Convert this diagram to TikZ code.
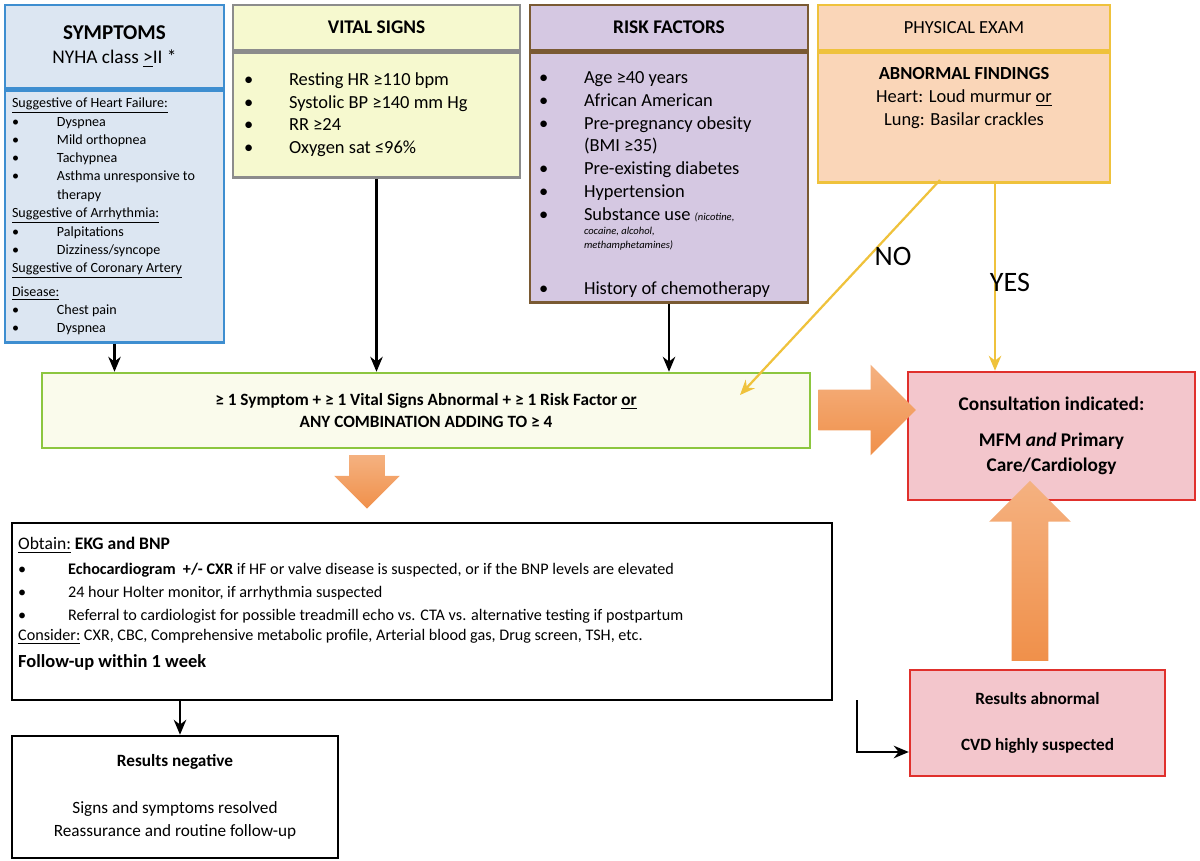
\documentclass[tikz,border=0pt]{standalone}
\usepackage{fontspec}
\setmainfont{Carlito}
\usepackage{array}
\usepackage{tikz}
\usetikzlibrary{arrows.meta,shapes.arrows,positioning}

\definecolor{symfill}{HTML}{DCE6F2}
\definecolor{symline}{HTML}{3E8ED0}
\definecolor{vitfill}{HTML}{F6F9CF}
\definecolor{vitline}{HTML}{8C8C8C}
\definecolor{riskfill}{HTML}{D5C8E2}
\definecolor{riskline}{HTML}{7A5A33}
\definecolor{examfill}{HTML}{FAD6B8}
\definecolor{examline}{HTML}{EFC23C}
\definecolor{combofill}{HTML}{FAFBEC}
\definecolor{comboline}{HTML}{8CC63F}
\definecolor{consfill}{HTML}{F3C6CC}
\definecolor{consline}{HTML}{E0302C}
\definecolor{goldarrow}{HTML}{EFC23C}
\definecolor{orangearrow}{HTML}{F0904A}

\tikzset{
  box/.style={draw, line width=0.5mm, inner sep=2pt},
  hdr/.style={font=\fontsize{11}{13}\selectfont\bfseries},
  small/.style={font=\fontsize{8}{10.4}\selectfont},
  mid/.style={font=\fontsize{10}{12.6}\selectfont},
  blk/.style={-{Stealth[length=3mm,width=2.5mm]}, line width=0.45mm},
  gold/.style={-{Stealth[length=3mm,width=2.5mm]}, goldarrow, line width=0.45mm},
  fat/.style={single arrow, draw=none, inner sep=0pt, outer sep=0pt,
    top color=orangearrow!70, bottom color=orangearrow}
}
\newcolumntype{R}[1]{>{\raggedright\arraybackslash\hyphenpenalty=10000}p{#1}}
\newcommand{\bul}[1]{\textbullet & #1\\}

\begin{document}
\begin{tikzpicture}[x=0.02cm, y=-0.02cm]
  \useasboundingbox (0,0) rectangle (1200,861);
  % Symptoms
  \node[box, symline, fill=symfill, minimum width=4.38cm, minimum height=1.66cm,
        text=black, align=center] (symT) at (114.5,46.5)
        {{\fontsize{12}{14}\selectfont\bfseries SYMPTOMS}\\[2pt]
         {\fontsize{11}{13}\selectfont NYHA class \underline{>}II *}};
  \node[box, symline, fill=symfill, minimum width=4.38cm, minimum height=5.04cm,
        text=black, small, anchor=north] (symB) at (symT.south) {%
    \begin{tabular}{@{}p{0.9cm}@{}R{3.2cm}@{}}
    \multicolumn{2}{@{}l}{\underline{Suggestive of Heart Failure:}}\\
    \bul{Dyspnea}\bul{Mild orthopnea}\bul{Tachypnea}
    \bul{Asthma unresponsive to therapy}
    \multicolumn{2}{@{}l}{\underline{Suggestive of Arrhythmia:}}\\
    \bul{Palpitations}\bul{Dizziness/syncope}
    \multicolumn{2}{@{}l}{\underline{Suggestive of Coronary Artery}}\\[3pt]
    \multicolumn{2}{@{}l}{\underline{Disease:}}\\
    \bul{Chest pain}\bul{Dyspnea}
    \end{tabular}};
  % Vital signs
  \node[box, vitline, fill=vitfill, minimum width=5.74cm, minimum height=0.9cm,
        text=black, hdr] (vitT) at (376.5,27.5) {VITAL SIGNS};
  \node[box, vitline, fill=vitfill, minimum width=5.74cm, minimum height=2.5cm,
        text=black, font=\fontsize{10.5}{13}\selectfont, anchor=north] (vitB) at (vitT.south) {%
    \begin{tabular}{@{}p{0.9cm}@{}R{4.4cm}@{}}
    \bul{Resting HR ≥110 bpm}\bul{Systolic BP ≥140 mm Hg}
    \bul{RR ≥24}\bul{Oxygen sat ≤96\%}
    \end{tabular}};
  % Risk factors
  \node[box, riskline, fill=riskfill, minimum width=5.56cm, minimum height=0.9cm,
        text=black, hdr] (riskT) at (669,27.5) {RISK FACTORS};
  \node[box, riskline, fill=riskfill, minimum width=5.56cm, minimum height=5.0cm,
        anchor=north] (riskB) at (riskT.south) {};
  \node[font=\fontsize{10.5}{13}\selectfont, anchor=north] (riskX) at ([yshift=-0.2cm]riskB.north) {%
    \begin{tabular}{@{}p{0.9cm}@{}R{4.3cm}@{}}
    \bul{Age ≥40 years}\bul{African American}
    \bul{Pre-pregnancy obesity\newline(BMI ≥35)}\bul{Pre-existing diabetes}
    \bul{Hypertension}
    \bul{Substance use {\fontsize{6}{8}\selectfont\itshape (nicotine,\newline cocaine, alcohol,\newline methamphetamines)\par}}
    \bul{History of chemotherapy}
    \end{tabular}};
  % Physical exam
  \node[box, examline, fill=examfill, minimum width=5.84cm, minimum height=0.9cm,
        text=black, font=\fontsize{10.5}{12}\selectfont] (examT) at (964,27.5) {PHYSICAL EXAM};
  \node[box, examline, fill=examfill, minimum width=5.84cm, minimum height=2.6cm,
        anchor=north] (examB) at (examT.south) {};
  \node[font=\fontsize{10.5}{13}\selectfont, align=center, anchor=north] (examX) at ([yshift=-0.2cm]examB.north)
        {\textbf{ABNORMAL FINDINGS}\\Heart: Loud murmur \underline{or}\\Lung: Basilar crackles};
  % Combination
  \node[box, comboline, fill=combofill, minimum width=15.36cm, minimum height=1.5cm,
        text=black, align=center, font=\fontsize{9.8}{12.5}\selectfont\bfseries] (combo) at (426,410.5)
        {≥ 1 Symptom + ≥ 1 Vital Signs Abnormal + ≥ 1 Risk Factor \underline{or}\\
         ANY COMBINATION ADDING TO ≥ 4};
  % Consultation
  \node[box, consline, fill=consfill, minimum width=5.74cm, minimum height=2.56cm,
        text=black, align=center, font=\fontsize{11}{14.5}\selectfont\bfseries] (cons) at (1051.5,436)
        {Consultation indicated:\\[6pt] MFM \textit{and} Primary\\ Care/Cardiology};
  % Obtain
  \node[box, fill=white, minimum width=16.4cm, minimum height=3.54cm] (obtain) at (422,611.5) {};
  \node[anchor=north west, align=left, font=\fontsize{9.2}{13.2}\selectfont, inner sep=0pt]
        (obtainX) at ([xshift=0.14cm,yshift=-0.3cm]obtain.north west) {%
    {\fontsize{10}{12}\selectfont\underline{Obtain:} \textbf{EKG and BNP}}\\[2pt]
    \begin{tabular}{@{}p{1.0cm}@{}l@{}}
    \bul{\textbf{Echocardiogram\ \ +/- CXR} if HF or valve disease is suspected, or if the BNP levels are elevated}
    \bul{24 hour Holter monitor, if arrhythmia suspected}
    \bul{Referral to cardiologist for possible treadmill echo vs. CTA vs. alternative testing if postpartum}
    \end{tabular}\\
    \underline{Consider:} CXR, CBC, Comprehensive metabolic profile, Arterial blood gas, Drug screen, TSH, etc.\\[2pt]
    {\fontsize{10.5}{13}\selectfont\bfseries Follow-up within 1 week}};
  % Results
  \node[box, consline, fill=consfill, minimum width=5.1cm, minimum height=2.12cm,
        text=black, align=center, font=\fontsize{9.8}{12}\selectfont\bfseries] (abn) at (1037.5,723)
        {Results abnormal\\[14pt] CVD highly suspected};
  \node[box, fill=white, minimum width=6.52cm, minimum height=2.44cm,
        align=center, font=\fontsize{9.8}{13}\selectfont] (neg) at (175,797)
        {\textbf{Results negative}\\[14pt] Signs and symptoms resolved\\ Reassurance and routine follow-up};
  % Connectors
  \draw[blk] (symB.south) -- (symB.south |- combo.north);
  \draw[blk] (vitB.south) -- (vitB.south |- combo.north);
  \draw[blk] (riskB.south) -- (riskB.south |- combo.north);
  \coordinate (noS) at (940,180);
  \coordinate (noE) at (740,395);
  \draw[gold] (noS) -- (noE);
  \draw[gold] (examB.south -| 995,0) -- (cons.north -| 995,0);
  \node[font=\fontsize{16}{18}\selectfont] (no) at (893,256) {NO};
  \node[font=\fontsize{16}{18}\selectfont] (yes) at (1010,282) {YES};
  \coordinate (negTop) at (180,700);
  \draw[blk] (negTop) -- (neg.north -| negTop);
  \coordinate (elb) at (857,700);
  \draw[blk] (elb) |- ([yshift=-0.58cm]abn.west);
  % Fat arrows
  \node[fat, minimum height=1.95cm, minimum width=1.8cm, single arrow head extend=0.5cm,
        inner ysep=0.4cm] (farR) at (857,410) {};
  \node[fat, shape border rotate=270, minimum height=1.0cm, minimum width=1.2cm,
        single arrow head extend=0.3cm, inner xsep=0.35cm, inner ysep=0.35cm] (farD) at (367,473) {};
  \node[fat, shape border rotate=90, minimum height=3.6cm, minimum width=1.6cm,
        single arrow head extend=0.45cm, inner xsep=0.36cm, inner ysep=0.36cm] (farU) at (1030,580) {};
\end{tikzpicture}
\end{document}
